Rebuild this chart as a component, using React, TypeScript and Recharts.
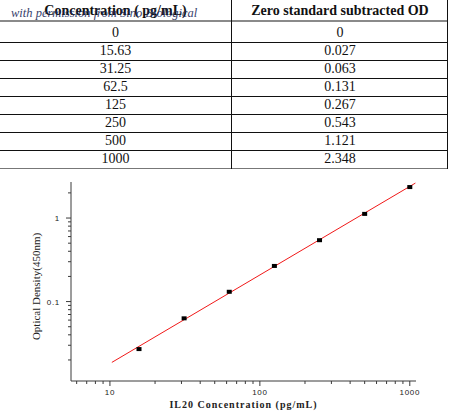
import { ScatterChart, Scatter, XAxis, YAxis } from 'recharts'

// Table values (standard curve)
const concentrations = [0, 15.63, 31.25, 62.5, 125, 250, 500, 1000]
const odValues = [0, 0.027, 0.063, 0.131, 0.267, 0.543, 1.121, 2.348]

// Fitted line endpoints
const fitX = [10.3, 1090]
const fitY = [0.0187, 2.62]

const X_MAJOR = [10, 100, 1000]
const X_MINOR = [6, 7, 8, 9, 20, 30, 40, 50, 60, 70, 80, 90, 200, 300, 400, 500, 600, 700, 800, 900]
const Y_MAJOR = [0.1, 1]
const Y_MINOR = [0.02, 0.03, 0.04, 0.05, 0.06, 0.07, 0.08, 0.09, 0.2, 0.3, 0.4, 0.5, 0.6, 0.7, 0.8, 0.9, 2]

const points = concentrations
  .map((x, i) => ({ x, y: odValues[i] }))
  .filter(d => d.x > 0 && d.y > 0)
const fitLine = fitX.map((x, i) => ({ x, y: fitY[i] }))

const AXIS = '#3a3a3a'
const TICK_FONT = { fontFamily: 'Liberation Sans, Arial, sans-serif', fontSize: 8, letterSpacing: 0.7, fill: '#222' }
const SERIF = "'Liberation Serif', 'Times New Roman', serif"

function XTick({ x, y, payload }: any) {
  const major = X_MAJOR.includes(payload.value)
  return (
    <g>
      <line x1={x} y1={y} x2={x} y2={y + (major ? 5 : 3)} stroke={AXIS} />
      {major && (
        <text x={x} y={y + 14} textAnchor="middle" style={TICK_FONT}>{payload.value}</text>
      )}
    </g>
  )
}

function YTick({ x, y, payload }: any) {
  const major = Y_MAJOR.includes(payload.value)
  return (
    <g>
      <line x1={x} y1={y} x2={x - (major ? 5 : 3)} y2={y} stroke={AXIS} />
      {major && (
        <text x={x - 11} y={y + 3} textAnchor="end" style={TICK_FONT}>{payload.value}</text>
      )}
    </g>
  )
}

function Square({ cx, cy }: any) {
  return <rect x={cx - 2.5} y={cy - 2} width={5} height={4} fill="#000" />
}

function Nothing() {
  return <g />
}

function Table() {
  const rowLines = concentrations.map((_, i) => 42 + 18 * i)
  return (
    <div style={{ position: 'absolute', left: 0, top: 0, width: 450, height: 170, fontFamily: SERIF, color: '#111' }}>
      <div style={{ position: 'absolute', left: 0, top: 2, width: 231, height: 18, lineHeight: '18px', textAlign: 'center', fontWeight: 'bold', fontSize: 14 }}>
        Concentration ( pg/mL)
      </div>
      <div style={{ position: 'absolute', left: 232, top: 2, width: 216, height: 18, lineHeight: '18px', textAlign: 'center', fontWeight: 'bold', fontSize: 14 }}>
        Zero standard subtracted OD
      </div>
      {/* watermark sits over the header, as in the source image */}
      <div style={{ position: 'absolute', left: 11, top: 6, fontFamily: SERIF, fontStyle: 'italic', fontSize: 12.5, color: '#1e2c5c', opacity: 0.9, whiteSpace: 'nowrap' }}>
        with permission from Sino Biological
      </div>
      <div style={{ position: 'absolute', left: 0, top: 20, width: 448, height: 2, background: '#8a8a8a' }} />
      {rowLines.map((y, i) => (
        <div key={i} style={{ position: 'absolute', left: 0, top: y, width: 448, height: 1, background: i === rowLines.length - 1 ? '#777' : '#111' }} />
      ))}
      <div style={{ position: 'absolute', left: 231, top: 0, width: 1, height: 169, background: '#111' }} />
      <div style={{ position: 'absolute', left: 447, top: 0, width: 1, height: 169, background: '#111' }} />
      {concentrations.map((c, i) => (
        <div key={i}>
          <div style={{ position: 'absolute', left: 0, top: 24 + 18 * i, width: 231, height: 18, lineHeight: '18px', textAlign: 'center', fontSize: 14 }}>
            {String(c)}
          </div>
          <div style={{ position: 'absolute', left: 232, top: 24 + 18 * i, width: 216, height: 18, lineHeight: '18px', textAlign: 'center', fontSize: 14 }}>
            {String(odValues[i])}
          </div>
        </div>
      ))}
    </div>
  )
}

export default function App() {
  return (
    <div style={{ position: 'absolute', left: 0, top: 0, width: 450, height: 418, background: '#fff', overflow: 'hidden' }}>
      <Table />
      <div style={{ position: 'absolute', left: 0, top: 170 }}>
        <ScatterChart width={450} height={248} margin={{ top: 12, right: 34, bottom: 7, left: 0 }}>
          <XAxis
            type="number"
            dataKey="x"
            scale="log"
            domain={[5.5, 1100]}
            allowDataOverflow
            ticks={[...X_MINOR, ...X_MAJOR]}
            interval={0}
            tick={<XTick />}
            tickSize={0}
            tickMargin={0}
            tickLine={false}
            axisLine={{ stroke: AXIS }}
            height={30}
            label={{
              position: 'insideBottom',
              content: ({ viewBox }: any) => (
                <text
                  x={viewBox.x + viewBox.width / 2}
                  y={viewBox.y + 27}
                  textAnchor="middle"
                  style={{ fontFamily: SERIF, fontSize: 10, fontWeight: 'bold', letterSpacing: 1, fill: '#222' }}
                >
                  IL20 Concentration (pg/mL)
                </text>
              ),
            }}
          />
          <YAxis
            type="number"
            dataKey="y"
            scale="log"
            domain={[0.0112, 2.7]}
            allowDataOverflow
            ticks={[...Y_MINOR, ...Y_MAJOR]}
            interval={0}
            tick={<YTick />}
            tickSize={0}
            tickMargin={0}
            tickLine={false}
            axisLine={{ stroke: AXIS }}
            width={71}
            label={{
              position: 'insideLeft',
              content: ({ viewBox }: any) => {
                const cx = viewBox.x + 36
                const cy = viewBox.y + viewBox.height / 2 + 5
                return (
                  <text
                    x={cx}
                    y={cy}
                    transform={`rotate(-90 ${cx} ${cy})`}
                    textAnchor="middle"
                    dominantBaseline="central"
                    style={{ fontFamily: SERIF, fontSize: 11, fill: '#222' }}
                  >
                    Optical Density(450nm)
                  </text>
                )
              },
            }}
          />
          <Scatter
            data={fitLine}
            line={{ stroke: '#f01818', strokeWidth: 1 }}
            shape={<Nothing />}
            isAnimationActive={false}
          />
          <Scatter data={points} shape={<Square />} fill="#000" isAnimationActive={false} />
        </ScatterChart>
      </div>
    </div>
  )
}
